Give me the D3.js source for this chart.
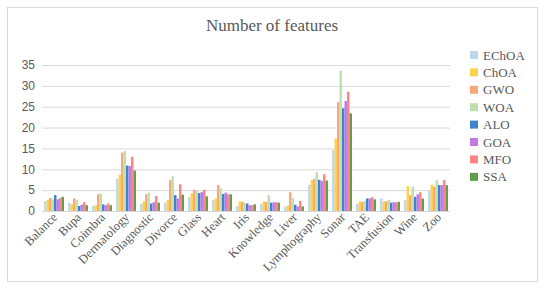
<!DOCTYPE html>
<html>
<head>
<meta charset="utf-8">
<script src="https://cdn.jsdelivr.net/npm/d3@7"></script>
<style>
  body { margin: 0; background: #fff; }
  svg { display: block; }
</style>
</head>
<body>
<div class="chart-area"></div>
<script>
// data
const datasets = ["Balance", "Bupa", "Coimbra", "Dermatology", "Diagnostic", "Divorce", "Glass", "Heart", "Iris",
  "Knowledge", "Liver", "Lymphography", "Sonar", "TAE", "Transfusion", "Wine", "Zoo"];
const algos = ["EChOA", "ChOA", "GWO", "WOA", "ALO", "GOA", "MFO", "SSA"];
const EChOA = [2.4, 2.0, 1.2, 7.7, 1.7, 2.0, 3.3, 2.6, 1.2, 1.7, 1.0, 6.3, 14.6, 1.7, 3.0, 2.6, 5.0];
const ChOA  = [2.7, 1.7, 1.4, 8.7, 2.3, 2.6, 4.2, 3.0, 2.3, 2.3, 1.3, 7.4, 17.4, 2.3, 2.3, 6.0, 6.3];
const GWO   = [3.1, 3.0, 4.0, 14.0, 4.0, 7.4, 5.1, 6.2, 2.2, 2.2, 4.5, 7.7, 26.1, 2.2, 2.3, 3.8, 5.8];
const WOA   = [2.8, 2.7, 4.2, 14.4, 4.4, 8.3, 4.8, 5.5, 2.0, 3.8, 3.1, 9.3, 33.6, 2.4, 2.7, 5.8, 7.4];
const ALO   = [3.8, 1.2, 1.6, 10.9, 1.8, 3.8, 4.3, 4.1, 1.8, 2.0, 1.5, 7.5, 24.6, 3.0, 2.0, 3.4, 6.2];
const GOA   = [2.8, 1.5, 1.4, 10.8, 2.1, 3.0, 4.5, 4.4, 1.4, 2.1, 1.1, 7.2, 26.4, 3.0, 2.1, 4.0, 6.2];
const MFO   = [3.1, 2.1, 1.8, 13.0, 3.6, 6.4, 5.1, 4.0, 1.4, 2.1, 2.4, 8.8, 28.6, 3.3, 2.1, 4.5, 7.4];
const SSA   = [3.4, 1.4, 1.4, 9.7, 2.0, 3.9, 3.5, 4.0, 1.6, 2.0, 1.1, 7.3, 23.4, 2.8, 2.2, 3.0, 6.2];
const yTicks = [0, 5, 10, 15, 20, 25, 30, 35];

const series = [EChOA, ChOA, GWO, WOA, ALO, GOA, MFO, SSA];
const colors = ["#bdd7ee", "#ffd24d", "#f8a878", "#bfe0ac", "#3d85c6", "#c27be6", "#ff8585", "#5e9e4a"];

const width = 550, height = 288;
const margin = { top: 65, right: 100, bottom: 77, left: 42 };

const svg = d3.select('.chart-area').append('svg').attr('width', width).attr('height', height);

svg.append("rect")
  .attr("x", 7.5).attr("y", 7.5).attr("width", 530).attr("height", 274)
  .attr("fill", "#fff").attr("stroke", "#d9d9d9");

svg.append("text")
  .attr("x", 272).attr("y", 31)
  .attr("text-anchor", "middle")
  .attr("font-family", "Liberation Serif, serif")
  .attr("font-size", 17)
  .attr("fill", "#595959")
  .text("Number of features");

var x = d3.scaleBand()
  .domain(datasets)
  .range([margin.left, width - margin.right])
  .paddingInner(0.17).paddingOuter(0.085);

var xs = d3.scaleBand().domain(algos).range([0, x.bandwidth()]);

var y = d3.scaleLinear().domain([0, 35]).range([height - margin.bottom, margin.top]);

// y axis with gridlines
svg.append("g")
  .attr("transform", `translate(${margin.left},0)`)
  .call(d3.axisLeft(y).tickValues(yTicks).tickSize(0).tickPadding(7))
  .call(g => g.select(".domain").remove())
  .call(g => g.selectAll(".tick line").clone()
    .attr("stroke", "#d9d9d9")
    .attr("x2", width - margin.left - margin.right))
  .call(g => g.selectAll(".tick text")
    .attr("fill", "#595959")
    .attr("font-family", "Liberation Sans, Arial, sans-serif")
    .attr("font-size", 12));

const g = svg.append("g")
  .selectAll("g")
  .data(datasets)
  .join("g")
  .attr("transform", d => `translate(${x(d)},0)`);

g.selectAll("rect")
  .data((d, i) => algos.map((a, j) => ({ a, v: series[j][i], j })))
  .join("rect")
  .attr("x", d => xs(d.a))
  .attr("width", xs.bandwidth())
  .attr("y", d => y(d.v))
  .attr("height", d => y(0) - y(d.v))
  .attr("fill", d => colors[d.j]);

// x axis labels
svg.append("g")
  .attr("transform", `translate(0,${height - margin.bottom})`)
  .call(d3.axisBottom(x).tickSize(0).tickPadding(0))
  .call(g => g.select(".domain").remove())
  .call(g => g.selectAll(".tick text")
    .attr("fill", "#595959")
    .attr("font-family", "Liberation Serif, serif")
    .attr("font-size", 12.5)
    .attr("text-anchor", "end")
    .attr("dy", 0)
    .attr("transform", "translate(4,7) rotate(-45)"));

// legend
const legend = svg.append("g")
  .selectAll("g")
  .data(algos)
  .join("g")
  .attr("transform", (d, i) => `translate(470,${55 + i * 17.4})`);

legend.append("rect")
  .attr("x", 0).attr("y", -4).attr("width", 8).attr("height", 8)
  .attr("fill", (d, i) => colors[i]);

legend.append("text")
  .attr("x", 13).attr("y", 4.5)
  .attr("font-family", "Liberation Serif, serif")
  .attr("font-size", 13)
  .attr("fill", "#595959")
  .text(d => d);
</script>
</body>
</html>
